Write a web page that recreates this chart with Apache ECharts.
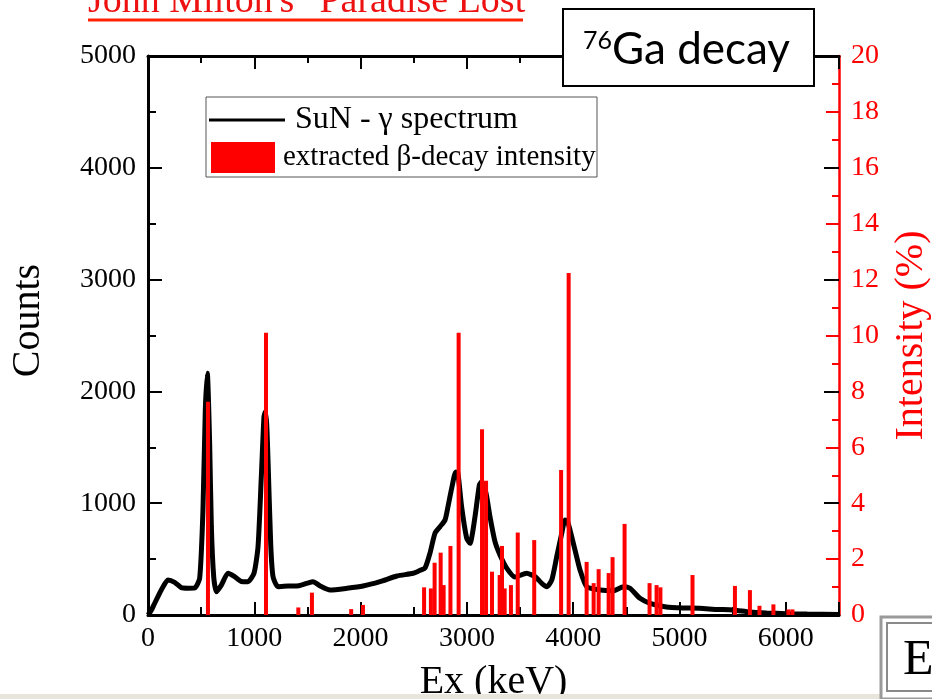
<!DOCTYPE html>
<html>
<head>
<meta charset="utf-8">
<script src="https://cdn.jsdelivr.net/npm/echarts@6.0.0/dist/echarts.min.js"></script>
<style>
html,body{margin:0;padding:0;background:#fff;}
#chart{width:932px;height:699px;}
</style>
</head>
<body>
<div id="chart"></div>
<script>
// Spectrum (SuN gamma spectrum): energy in keV, counts
const spectrumEnergy = [0,30,63,125,188,251,313,380,439,486,517,539,558,580,596,618,643,690,753,815,877,940,997,1035,1066,1091,1104,1117,1129,1154,1176,1223,1317,1420,1500,1552,1620,1712,1872,2023,2182,2342,2493,2560,2606,2653,2700,2747,2794,2822,2860,2895,2915,2950,2997,3029,3076,3117,3138,3180,3217,3264,3311,3374,3452,3562,3641,3704,3751,3798,3845,3892,3923,3945,3970,4017,4064,4127,4252,4378,4472,4534,4628,4722,4876,5030,5190,5350,5500,5660,5820,6000,6200,6500];
const spectrumCounts = [0,40,105,224,313,292,245,240,242,328,939,1834,2162,1536,790,343,208,268,373,343,300,298,373,611,1237,1774,1818,1700,1386,641,343,253,259,262,285,298,260,224,239,259,298,349,373,400,420,555,733,790,850,970,1150,1280,1270,969,690,641,879,1163,1192,1089,879,656,537,420,340,373,343,283,253,313,522,731,850,840,760,581,403,253,224,217,253,239,149,105,72,63,60,50,45,27,18,12,8,5];
// Extracted beta-decay intensity (%): level energy in keV
const levelEnergy = [564,1110,1414,1542,1911,2022,2597,2661,2696,2753,2781,2845,2922,3142,3180,3236,3308,3330,3355,3414,3478,3633,3886,3957,4126,4192,4239,4333,4370,4483,4718,4784,4820,5122,5521,5662,5752,5883,6024,6062];
const levelIntensity = [7.63,10.1,0.27,0.8,0.21,0.36,0.99,0.95,1.87,2.23,1.07,2.47,10.1,6.65,4.8,1.55,1.43,2.47,0.95,1.07,2.95,2.68,5.19,12.24,1.9,1.14,1.64,1.5,2.07,3.26,1.14,1.07,0.99,1.43,1.04,0.89,0.33,0.38,0.2,0.2];

const xRange = [0, 6500];
const countsRange = [0, 5000];
const intensityRange = [0, 20];

const serif = '"Liberation Serif", "Times New Roman", serif';
const plain = v => String(v);

const chart = echarts.init(document.getElementById('chart'), null, {renderer: 'canvas'});

const spectrumData = spectrumEnergy.map((e, i) => [e, spectrumCounts[i]]);
const barData = levelEnergy.map((e, i) => [e, levelIntensity[i]]);

function tickSet(color, len, minorLen, showMinor) {
  return {
    axisTick: {show: true, inside: true, length: len, lineStyle: {color: color, width: 2}},
    minorTick: {show: showMinor, splitNumber: 2, length: minorLen, lineStyle: {color: color, width: 2}}
  };
}

const option = {
  backgroundColor: '#fff',
  animation: false,
  grid: {left: 148, right: 93, top: 56, bottom: 84, containLabel: false, outerBoundsMode: 'none'},
  legend: [
    {
      data: [{name: 'SuN - γ spectrum', icon: 'rect', itemStyle: {color: '#000'}}],
      left: 209, top: 104, padding: 0,
      itemWidth: 76, itemHeight: 3,
      textStyle: {fontFamily: serif, fontSize: 32, color: '#000', padding: [0,0,0,5]},
      selectedMode: false
    },
    {
      data: [{name: 'extracted β-decay intensity', icon: 'rect'}],
      left: 211, top: 142, padding: 0,
      itemWidth: 64, itemHeight: 31,
      textStyle: {fontFamily: serif, fontSize: 29, color: '#000', padding: [0,0,0,3]},
      selectedMode: false
    }
  ],
  xAxis: [
    Object.assign({
      type: 'value', position: 'bottom', min: xRange[0], max: xRange[1], interval: 1000,
      name: 'Ex (keV)', nameLocation: 'middle', nameGap: 47,
      nameTextStyle: {fontFamily: serif, fontSize: 40, color: '#000'},
      axisLine: {show: true, onZero: false, lineStyle: {color: '#000', width: 3}},
      axisLabel: {fontFamily: serif, fontSize: 28, color: '#000', margin: 10, showMaxLabel: false, formatter: plain},
      splitLine: {show: false}
    }, tickSet('#000', 13, 8, true)),
    Object.assign({
      type: 'value', position: 'top', min: xRange[0], max: xRange[1], interval: 1000,
      axisLine: {show: true, onZero: false, lineStyle: {color: '#000', width: 3}},
      axisLabel: {show: false},
      splitLine: {show: false}
    }, tickSet('#000', 13, 7, true))
  ],
  yAxis: [
    Object.assign({
      type: 'value', position: 'left', min: countsRange[0], max: countsRange[1], interval: 1000,
      name: 'Counts', nameLocation: 'middle', nameGap: 100,
      nameTextStyle: {fontFamily: serif, fontSize: 40, color: '#000', padding: [0,0,0,30]},
      axisLine: {show: true, onZero: false, lineStyle: {color: '#000', width: 3}},
      axisLabel: {fontFamily: serif, fontSize: 28, color: '#000', margin: 12, formatter: plain},
      splitLine: {show: false}
    }, tickSet('#000', 14, 8, true)),
    Object.assign({
      type: 'value', position: 'right', min: intensityRange[0], max: intensityRange[1], interval: 2,
      name: 'Intensity (%)', nameLocation: 'middle', nameGap: 52,
      nameTextStyle: {fontFamily: serif, fontSize: 40, color: '#ff0000'},
      axisLine: {show: true, onZero: false, lineStyle: {color: '#ff0000', width: 2.5}},
      axisLabel: {fontFamily: serif, fontSize: 28, color: '#ff0000', margin: 12, formatter: plain},
      splitLine: {show: false}
    }, tickSet('#ff0000', 13, 7, true)),
    Object.assign({
      type: 'value', position: 'right', min: countsRange[0], max: countsRange[1], interval: 1000,
      z: 5,
      axisLine: {show: false, onZero: false},
      axisLabel: {show: false},
      splitLine: {show: false}
    }, tickSet('#000', 15, 7, false))
  ],
  series: [
    {
      name: 'SuN - γ spectrum', type: 'line', xAxisIndex: 0, yAxisIndex: 0,
      data: spectrumData, showSymbol: false, symbol: 'none', smooth: 0.2,
      lineStyle: {color: '#000', width: 5}, itemStyle: {color: '#000'}, z: 2
    },
    {
      name: 'extracted β-decay intensity', type: 'bar', xAxisIndex: 0, yAxisIndex: 1,
      data: barData, barWidth: 4, barGap: '-100%',
      itemStyle: {color: '#ff0000'}, z: 3
    }
  ],
  graphic: [
    {type: 'rect', z: 1, shape: {x: 206, y: 97, width: 391, height: 80},
     style: {fill: '#fff', stroke: '#555', lineWidth: 1}},
    {type: 'text', z: 10, x: 88, y: 2,
     style: {text: 'John Milton\'s "Paradise Lost', font: '38px ' + serif, fill: '#ee1111', verticalAlign: 'middle', align: 'left'}},
    {type: 'line', z: 10, shape: {x1: 88, y1: 20, x2: 523, y2: 20}, style: {stroke: '#ff2200', lineWidth: 3}},
    {type: 'rect', z: 20, shape: {x: 563, y: 9, width: 251, height: 77}, style: {fill: '#fff', stroke: '#000', lineWidth: 2}},
    {type: 'text', z: 21, x: 583, y: 41, style: {text: '76', font: '25px Lato', fill: '#000', verticalAlign: 'middle'}},
    {type: 'text', z: 21, x: 612, y: 50, style: {text: 'Ga decay', font: '44px Lato', fill: '#000', verticalAlign: 'middle'}},
    {type: 'rect', z: 20, shape: {x: 0, y: 694, width: 932, height: 5}, style: {fill: '#e8e6dc'}},
    {type: 'rect', z: 21, shape: {x: 881, y: 617, width: 70, height: 82}, style: {fill: '#fff', stroke: '#9a9a9a', lineWidth: 3}},
    {type: 'rect', z: 22, shape: {x: 887, y: 623, width: 70, height: 68}, style: {fill: '#fff', stroke: '#8a8a8a', lineWidth: 2}},
    {type: 'text', z: 23, x: 903, y: 661, style: {text: 'E', font: '50px ' + serif, fill: '#000', verticalAlign: 'middle'}}
  ]
};
chart.setOption(option);
</script>
</body>
</html>
